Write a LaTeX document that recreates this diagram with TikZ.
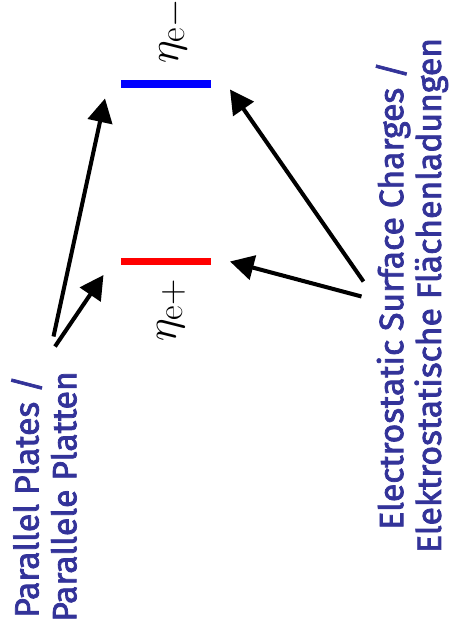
\documentclass[tikz,border=0pt]{standalone}
\usepackage{fontspec}
\newfontfamily\capfont{Fira Sans}[FakeBold=2.2]
\usetikzlibrary{arrows.meta}
\definecolor{labelblue}{RGB}{51,51,153}

\begin{document}
\begin{tikzpicture}[line width=2.3pt,
	plate/.style = {line width=4.5pt},
	pointer/.style = {-{Triangle[length=13.5pt,width=14pt]}},
	caption/.style = {labelblue, rotate=90, align=center, inner sep=0pt,
		font=\capfont\fontsize{19.2}{21.5}\selectfont},
	density/.style = {rotate=90, inner sep=0pt, font=\fontsize{29}{35}\selectfont}]
	
	% Page frame
	\useasboundingbox (0,0) rectangle (8.98,12.6);
	
	% Plates
	\draw[plate, blue] (2.42,10.92) -- (4.22,10.92);
	\draw[plate, red] (2.42,7.37) -- (4.22,7.37);
	
	% Density labels
	\node[density] (nminus) at (3.47,11.98) {$\eta_{\mathrm{e}-}$};
	\node[density] (nplus) at (3.42,6.40) {$\eta_{\mathrm{e}+}$};
	
	% Captions
	\node[caption] (plates) at (0.88,2.67) {Parallel Plates /\\Parallele Platten};
	\node[caption] (charges) at (8.24,6.69) {Electrostatic Surface Charges /\\Elektrostatische Flächenladungen};
	
	% Arrow ends
	\coordinate (pp1) at (1.07,5.87);
	\coordinate (pp2) at (1.10,5.67);
	\coordinate (sc1) at (7.27,6.97);
	\coordinate (sc2) at (7.23,6.67);
	\coordinate (top1) at (2.10,10.63);
	\coordinate (bot1) at (2.07,7.10);
	\coordinate (top2) at (4.60,10.81);
	\coordinate (bot2) at (4.60,7.37);
	
	% Pointers
	\draw[pointer] (pp1) -- (top1);
	\draw[pointer] (pp2) -- (bot1);
	\draw[pointer] (sc1) -- (top2);
	\draw[pointer] (sc2) -- (bot2);
	
\end{tikzpicture}
\end{document}
